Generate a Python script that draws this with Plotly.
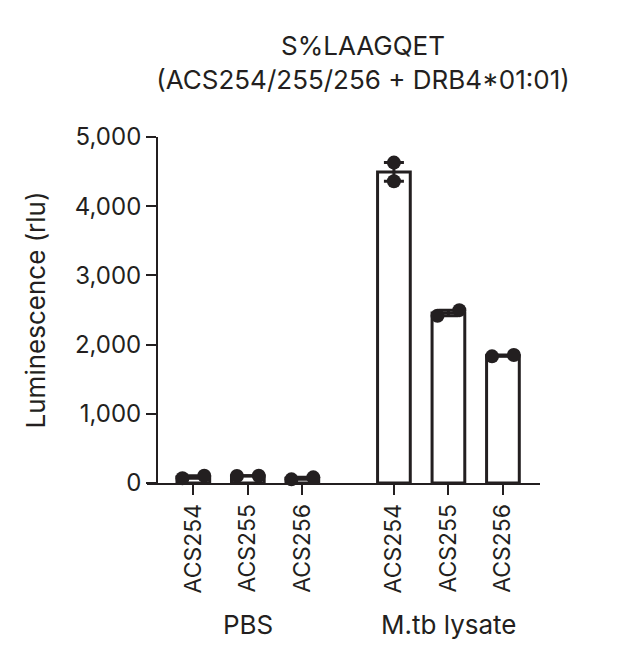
import plotly.graph_objects as go

# data
groups = ["PBS", "M.tb lysate"]
samples = ["ACS254", "ACS255", "ACS256"]
rep1 = [68, 101, 53, 4630, 2416, 1830]
rep2 = [105, 105, 82, 4360, 2498, 1850]

# layout constants
group_gap = 0.68
dot_offset = 0.2
ink = "#231f20"
font_family = "Inter, 'Noto Sans', sans-serif"

xpos = []
labels = []
for g in range(len(groups)):
    for s in range(len(samples)):
        xpos.append(g * (len(samples) + group_gap) + s)
        labels.append(samples[s])

means = [(a + b) / 2 for a, b in zip(rep1, rep2)]
sems = [abs(a - b) / 2 for a, b in zip(rep1, rep2)]

# dots sit side by side unless they are far apart vertically
dx = [0 if abs(a - b) > 150 else dot_offset for a, b in zip(rep1, rep2)]

fig = go.Figure()

fig.add_trace(go.Bar(
    x=xpos, y=means, width=0.6,
    marker=dict(color="white", line=dict(color=ink, width=3)),
    error_y=dict(type="data", array=sems, color=ink, thickness=3, width=10),
    showlegend=False,
))

fig.add_trace(go.Scatter(
    x=[x - d for x, d in zip(xpos, dx)] + [x + d for x, d in zip(xpos, dx)],
    y=rep1 + rep2,
    mode="markers",
    marker=dict(color=ink, size=14),
    showlegend=False, cliponaxis=False,
))

for g, name in enumerate(groups):
    fig.add_annotation(
        x=g * (len(samples) + group_gap) + 1, y=-0.41,
        xref="x", yref="paper", text=name, showarrow=False,
        font=dict(size=26, color=ink), yanchor="middle",
    )

fig.update_layout(
    width=622, height=650,
    margin=dict(l=139, r=90, t=129, b=175),
    paper_bgcolor="white", plot_bgcolor="white",
    font=dict(family=font_family, color=ink, size=23),
    separators=".,",
    title=dict(
        text="S%LAAGQET<br>(ACS254/255/256 + DRB4*01:01)",
        x=355 / 622, xanchor="center", y=1 - 47 / 650, yanchor="middle",
        font=dict(size=26, color=ink),
    ),
    xaxis=dict(
        range=[-0.85, 6.36], showgrid=False, zeroline=False,
        showline=True, linecolor=ink, linewidth=1.5,
        tickmode="array", tickvals=xpos, ticktext=labels, tickangle=-90,
        ticks="outside", ticklen=10, tickwidth=1.5, tickcolor=ink,
        tickfont=dict(size=23),
    ),
    yaxis=dict(
        range=[0, 5000], showgrid=False, zeroline=False,
        anchor="free", position=0.025,
        showline=True, linecolor=ink, linewidth=1.5,
        tickvals=[0, 1000, 2000, 3000, 4000, 5000], tickformat=",d",
        ticks="outside", ticklen=10, tickwidth=1.5, tickcolor=ink,
        tickfont=dict(size=24),
        title=dict(text="Luminescence (rlu)", font=dict(size=26), standoff=21),
    ),
)

fig.write_html("out.html")
